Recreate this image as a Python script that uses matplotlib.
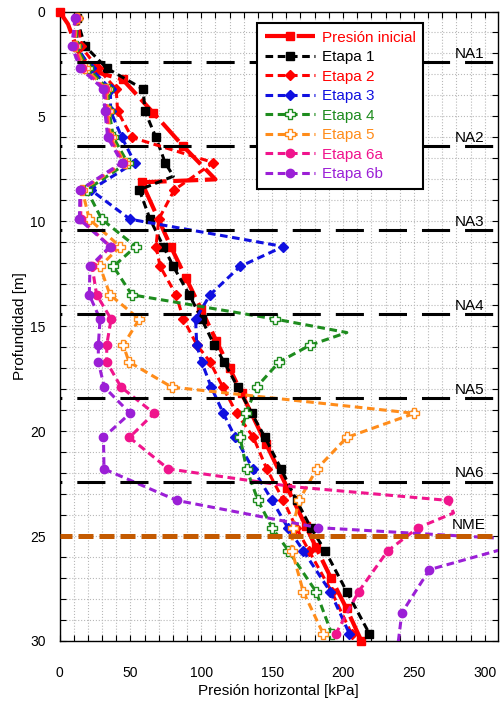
import matplotlib
matplotlib.use('Agg')
import matplotlib.pyplot as plt
from matplotlib.ticker import MultipleLocator

plt.rcParams['font.family'] = ['Liberation Sans', 'DejaVu Sans']

# profundidades comunes de las etapas [m]
prof = [0.3, 1.65, 2.7, 3.7, 4.75, 6.0, 7.2, 8.5, 9.9, 11.2, 12.15, 13.5, 14.66,
        15.9, 16.7, 17.9, 19.15, 20.3, 21.8, 23.3, 24.6, 25.7, 27.65, 29.65]

prof_ini = [0, 0.6, 1.9, 2.85, 3.24, 4.83, 6.43, 8.0, 8.14, 11.2, 12.7, 14.2, 15.7,
            17.0, 18.2, 20.6, 22.7, 24.5, 25.5, 27.0, 28.45, 30.0]
p_ini = [0, 6, 13, 24, 44.6, 66.2, 87.4, 110, 58, 78.5, 89.2, 100, 110.7,
         120, 128.5, 145.7, 160.7, 173.6, 180.7, 191.5, 202.5, 213]

prof_e1 = prof[:7] + [7.85] + prof[7:]
p_e1 = [12, 18, 33.3, 59, 60.3, 68, 74.5, 80.3, 56.3, 63.9, 73.3, 80.3, 91.6, 100.3,
        109.2, 116.1, 125.7, 135.6, 145, 156.3, 167.2, 177.3, 187.4, 202.7, 218.6]

p_e2 = [13, 15, 27, 40, 41, 51, 108.6, 81, 70, 68.1, 71, 82.2, 87.4, 97,
        106.2, 115.2, 125, 136.8, 146.2, 158, 167, 176, 192, 206]

p_e3 = [12.5, 12, 22, 36, 36, 44, 53, 22, 49.8, 158, 127.4, 106.2, 96, 96.8,
        100.3, 107, 115.6, 124, 136.5, 150, 161, 172, 191, 204.5]

prof_e4 = prof[:13] + [15.3] + prof[13:]
p_e4 = [12.5, 11.5, 20, 34, 35, 38, 48, 19.2, 29.8, 53.8, 38, 51, 152.3, 202.7,
        176.8, 155, 139, 131.6, 127.4, 132, 140, 150, 161.5, 181, 192]

p_e5 = [12, 11, 18, 33, 34, 36, 46, 16, 21, 42.7, 28.6, 35.6, 56.3, 45,
        49, 79.2, 250.4, 202.7, 181.5, 169, 164.5, 164, 172, 186]

prof_e6a = prof[:19] + [22.65, 23.3, 23.9] + prof[20:]
p_e6a = [11.5, 10, 16, 32, 33, 35, 45, 15, 15, 36, 23, 26.2, 36.4, 33.3,
         33.3, 43.4, 66.7, 49.3, 76.8, 165, 274, 278, 253, 231.6, 211, 195]

prof_e6b = prof[:21] + [25.2, 26.6, 28.66, 30.6]
p_e6b = [11, 8.6, 14.5, 31, 32, 34, 44, 14.5, 14, 35.6, 21.5, 21, 28.6, 27.4,
         27.4, 31.6, 49.8, 31, 31.4, 82.7, 182.6, 335, 261, 241.5, 238]

niveles = [2.43, 6.43, 10.43, 14.43, 18.43, 22.43]
nombres_na = ['NA1', 'NA2', 'NA3', 'NA4', 'NA5', 'NA6']
nme = 25.0

fig = plt.figure(figsize=(5, 7.06), dpi=100)
ax = fig.add_axes([0.119, 0.0921, 0.876, 0.8916])

dash = (0, (2.5, 1.5))
ax.plot(p_ini, prof_ini, color='#FF0000', lw=3, ls=(0, (6, 1.6)), marker='s', ms=6,
        markevery=[i for i in range(len(prof_ini)) if i not in (1, 2, 3, 7)],
        label='Presión inicial', clip_on=False, zorder=3)
ax.plot(p_e1, prof_e1, color='black', lw=2.2, ls=dash, marker='s', ms=6,
        markevery=[i for i in range(len(prof_e1)) if i != 7], label='Etapa 1', zorder=4)
ax.plot(p_e2, prof, color='#FF0000', lw=2.2, ls=dash, marker='D', ms=4.6,
        label='Etapa 2', zorder=4)
ax.plot(p_e3, prof, color='#1010E0', lw=2.2, ls=dash, marker='D', ms=4.6,
        label='Etapa 3', zorder=4)
ax.plot(p_e4, prof_e4, color='#1E8C1E', lw=2.2, ls=dash, marker='P', ms=7, mfc='white',
        mew=1.0, markevery=[i for i in range(len(prof_e4)) if i != 13],
        label='Etapa 4', zorder=4)
ax.plot(p_e5, prof, color='#FF8C1A', lw=2.2, ls=dash, marker='P', ms=7, mfc='white',
        mew=1.0, label='Etapa 5', zorder=4)
ax.plot(p_e6a, prof_e6a, color='#F0148C', lw=2.2, ls=dash, marker='o', ms=6,
        markevery=[i for i in range(len(prof_e6a)) if i not in (19, 21)],
        label='Etapa 6a', zorder=4)
ax.plot(p_e6b, prof_e6b, color='#9B1FD6', lw=2.2, ls=dash, marker='o', ms=6,
        label='Etapa 6b', zorder=4)

for d, n in zip(niveles, nombres_na):
    ax.axhline(d, color='black', lw=2.2, ls=(8.6, (9.2, 4.9)), zorder=5)
    ax.text(289.5, d - 0.08, n, ha='center', va='bottom', fontsize=11, zorder=6)
ax.axhline(nme, color='#C45A00', lw=3.6, ls=(0.6, (3.0, 1.2)), zorder=5)
ax.text(288.5, nme - 0.18, 'NME', ha='center', va='bottom', fontsize=11, zorder=6)

ax.set_xlim(0, 309)
ax.set_ylim(30, 0)
ax.xaxis.set_major_locator(MultipleLocator(50))
ax.xaxis.set_minor_locator(MultipleLocator(10))
ax.yaxis.set_major_locator(MultipleLocator(5))
ax.yaxis.set_minor_locator(MultipleLocator(1))
ax.grid(True, which='both', ls=':', color='#B8B8B8', lw=0.8)
ax.set_axisbelow(True)
ax.tick_params(which='both', direction='in', top=True, right=True, length=4.5, width=0.8)
ax.tick_params(axis='x', pad=18, labelsize=10)
ax.tick_params(axis='y', pad=10, labelsize=10)
for s in ax.spines.values():
    s.set_linewidth(1.0)

ax.set_xlabel('Presión horizontal [kPa]', fontsize=11, labelpad=3)
ax.set_ylabel('Profundidad [m]', fontsize=11, labelpad=2)

leg = ax.legend(loc='upper left', bbox_to_anchor=(257 / 500, 1 - 23 / 706),
                bbox_transform=fig.transFigure, fontsize=11, labelcolor='linecolor',
                handlelength=3.3, handletextpad=0.45, labelspacing=0.36,
                borderpad=0.5, borderaxespad=0, fancybox=False, framealpha=1,
                edgecolor='black')
leg.get_frame().set_linewidth(1.5)
leg.set_zorder(10)

fig.savefig('out.png', dpi=100)
